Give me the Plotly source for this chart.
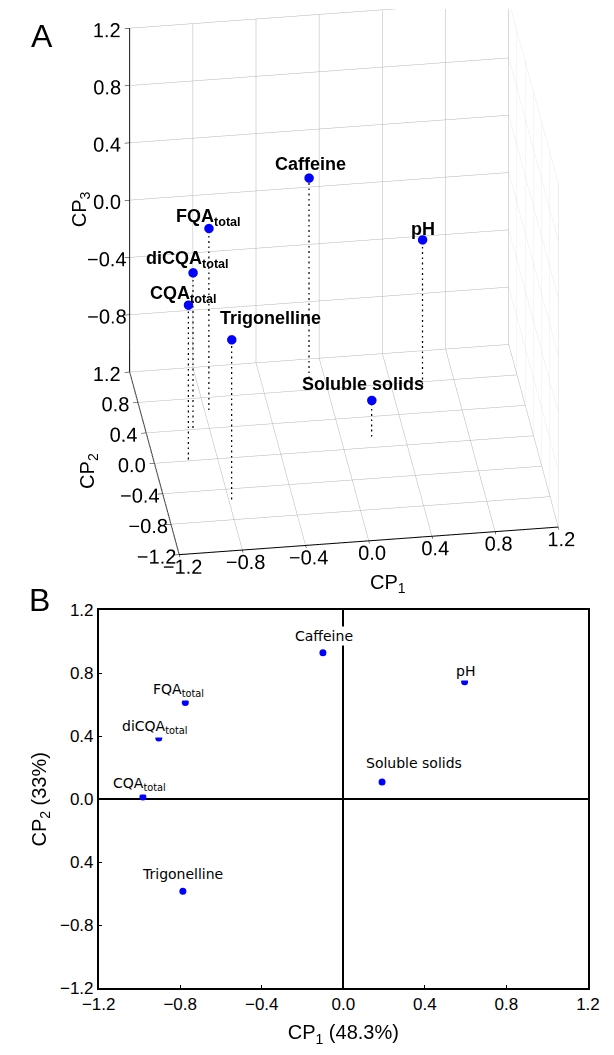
import plotly.graph_objects as go

# ---------------- data ----------------
variables = ["Caffeine", "pH", "FQA<sub>total</sub>", "diCQA<sub>total</sub>",
             "CQA<sub>total</sub>", "Soluble solids", "Trigonelline"]
cp1 = [-0.10, 0.595, -0.775, -0.905, -0.983, 0.19, -0.787]
cp2 = [0.93, 0.747, 0.614, 0.39, 0.015, 0.11, -0.583]
cp3 = [0.21, -0.18, 0.08, -0.10, -0.12, -0.93, -0.06]
tick_vals = [-1.2, -0.8, -0.4, 0.0, 0.4, 0.8, 1.2]
tick_labels = ["\u22121.2", "\u22120.8", "\u22120.4", "0.0", "0.4", "0.8", "1.2"]
z_tick_labels = ["", "\u22120.8", "\u22120.4", "0.0", "0.4", "0.8", "1.2"]
b_y_tick_labels = ["\u22121.2", "\u22120.8", "0.4", "0.0", "0.4", "0.8", "1.2"]

# label offsets (pixels) - styling only
label_shift_3d = {"Caffeine": (2, 14), "pH": (0, 11), "FQA<sub>total</sub>": (0, 11),
                  "diCQA<sub>total</sub>": (-5, 13), "CQA<sub>total</sub>": (-5, 11),
                  "Soluble solids": (-9, 16), "Trigonelline": (39, 22)}
label_shift_2d = {"Caffeine": (1, 17), "pH": (1, 11), "FQA<sub>total</sub>": (-7, 13),
                  "diCQA<sub>total</sub>": (-4, 11), "CQA<sub>total</sub>": (-3, 13),
                  "Soluble solids": (32, 19), "Trigonelline": (0, 17)}

FONT = "Liberation Sans, Arial, sans-serif"
floor = tick_vals[0]

fig = go.Figure()

# ---------------- panel A (3D) ----------------
xs, ys, zs = [], [], []
for a, b, c in zip(cp1, cp2, cp3):
    xs += [a, a, None]
    ys += [b, b, None]
    zs += [c, floor, None]
fig.add_trace(go.Scatter3d(x=xs, y=ys, z=zs, mode="lines",
                           line=dict(color="black", width=2.5, dash="dot"),
                           hoverinfo="skip", showlegend=False))
fig.add_trace(go.Scatter3d(x=cp1, y=cp2, z=cp3, mode="markers",
                           marker=dict(color="#0000ff", size=5.5, line=dict(width=0)),
                           showlegend=False))

ax3 = dict(range=[-1.2, 1.2], tickvals=tick_vals, showbackground=False,
           gridcolor="#b4b4b4", gridwidth=1, showline=True, linecolor="black",
           linewidth=2, ticks="outside", ticklen=5, tickcolor="black",
           zeroline=False, showspikes=False, tickangle=0, title=dict(text=""),
           tickfont=dict(family=FONT, size=15.5, color="black"))

scene_ann = []
for v, a, b, c in zip(variables, cp1, cp2, cp3):
    dx, dy = label_shift_3d[v]
    scene_ann.append(dict(x=a, y=b, z=c, text="<b>" + v + "</b>", showarrow=False,
                          xanchor="center", yanchor="middle", xshift=dx, yshift=dy,
                          font=dict(family=FONT, size=18, color="black")))

cx, cz = -0.12, -0.076
D = 1.18
dirv = (-0.119, -0.847, 0.518)
S = 1.32
fig.update_layout(scene=dict(
    domain=dict(x=[0.0, 1.0], y=[0.44, 1.0]),
    xaxis=dict(ax3, ticktext=tick_labels),
    yaxis=dict(ax3, ticktext=tick_labels),
    zaxis=dict(ax3, ticktext=z_tick_labels),
    aspectmode="manual", aspectratio=dict(x=1 * S, y=0.93 * S, z=1.05 * S),
    camera=dict(eye=dict(x=cx + D * dirv[0], y=D * dirv[1], z=cz + D * dirv[2]),
                center=dict(x=cx, y=0, z=cz), up=dict(x=0, y=0, z=1),
                projection=dict(type="orthographic")),
    annotations=scene_ann,
    bgcolor="white"))

# 3D axis titles
for txt, px, py, ang in [("CP<sub>3</sub>", 0.1075, 0.8066, -90),
                         ("CP<sub>2</sub>", 0.122, 0.5545, -90),
                         ("CP<sub>1</sub>", 0.635, 0.4455, 0)]:
    fig.add_annotation(x=px, y=py, xref="paper", yref="paper", text=txt,
                       showarrow=False, textangle=ang, xanchor="center", yanchor="middle",
                       font=dict(family=FONT, size=20, color="black"))

# ---------------- panel B (2D) ----------------
fig.add_trace(go.Scatter(x=cp1, y=cp2, mode="markers", xaxis="x", yaxis="y",
                         marker=dict(color="#0000ff", size=7), showlegend=False))
for v, a, b in zip(variables, cp1, cp2):
    dx, dy = label_shift_2d[v]
    fig.add_annotation(x=a, y=b, xref="x", yref="y", text=v, showarrow=False,
                       xanchor="center", yanchor="middle", xshift=dx, yshift=dy,
                       bgcolor="white",
                       font=dict(family="DejaVu Sans, sans-serif", size=14, color="black"))

ax2 = dict(range=[-1.2, 1.2], tickvals=tick_vals, showgrid=False, zeroline=True,
           zerolinecolor="black", zerolinewidth=1.5, showline=True, mirror=True,
           linecolor="black", linewidth=1.5, ticks="inside", ticklen=4,
           tickcolor="black", tickfont=dict(family=FONT, size=17, color="black"),
           title_font=dict(family=FONT, size=20, color="black"))
fig.update_layout(
    xaxis=dict(ax2, domain=[0.1396, 0.976], anchor="y", ticktext=tick_labels,
               title=dict(text="CP<sub>1</sub> (48.3%)", standoff=12)),
    yaxis=dict(ax2, domain=[0.0547, 0.4196], anchor="x", ticktext=b_y_tick_labels,
               title=dict(text="CP<sub>2</sub> (33%)", standoff=8)),
)

fig.add_annotation(x=0.0428, y=0.974, xref="paper", yref="paper", text="A",
                   showarrow=False, xanchor="center", yanchor="middle",
                   font=dict(family=FONT, size=32, color="black"))
fig.add_annotation(x=0.0388, y=0.430, xref="paper", yref="paper", text="B",
                   showarrow=False, xanchor="center", yanchor="middle",
                   font=dict(family=FONT, size=32, color="black"))

fig.update_layout(width=614, height=1055, margin=dict(l=0, r=0, t=0, b=0),
                  paper_bgcolor="white", plot_bgcolor="white", showlegend=False)

fig.write_html("out.html")
